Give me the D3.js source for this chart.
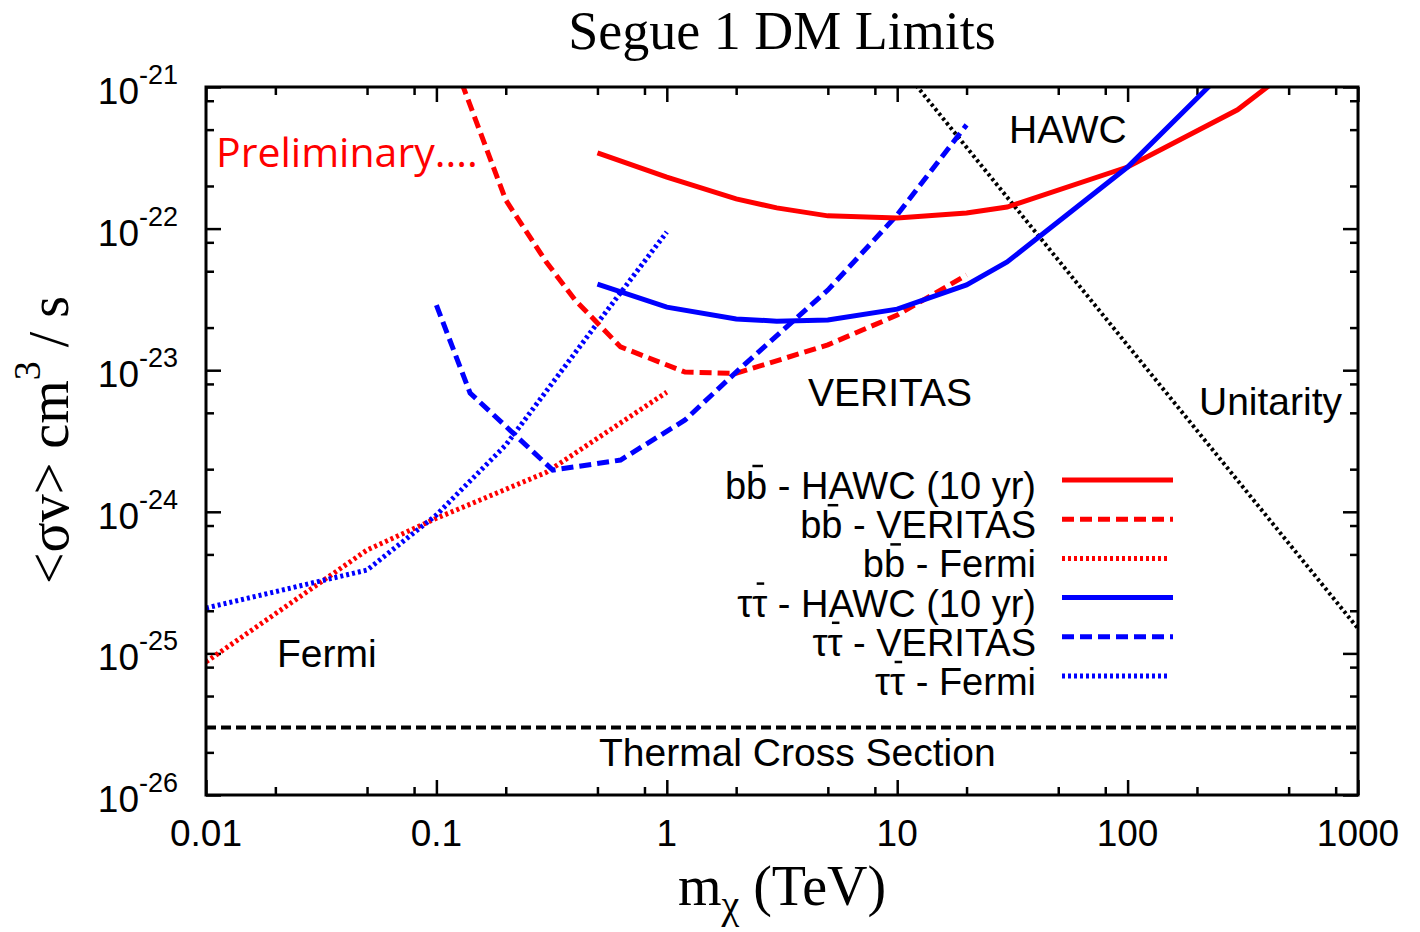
<!DOCTYPE html>
<html>
<head>
<meta charset="utf-8">
<script src="https://cdn.jsdelivr.net/npm/d3@7"></script>
<style>
  body { margin: 0; background: #fff; }
  svg { display: block; }
  .sans { font-family: "Liberation Sans", Arial, sans-serif; }
  .serif { font-family: "Liberation Serif", "Times New Roman", serif; }
</style>
</head>
<body>
<div id="chart"></div>
<script>

// ---- data (mass in TeV, <sigma v> in cm^3/s) ----
var bbHawcMass = [0.5, 1, 2, 3, 5, 10, 20, 30, 100, 300, 1000];
var bbHawcSv   = [3.42e-22, 2.31e-22, 1.62e-22, 1.40e-22, 1.23e-22, 1.19e-22, 1.29e-22, 1.42e-22, 2.72e-22, 6.9e-22, 3.1e-21];

var ttHawcMass = [0.5, 1, 2, 3, 5, 10, 20, 30, 100, 300];
var ttHawcSv   = [4.06e-23, 2.79e-23, 2.30e-23, 2.22e-23, 2.26e-23, 2.70e-23, 4.0e-23, 5.81e-23, 2.72e-22, 1.6e-21];

var bbVeritasMass = [0.1, 0.2, 0.3, 0.4, 0.63, 1.2, 2, 5, 10, 20];
var bbVeritasSv   = [3.2e-21, 1.59e-22, 5.8e-23, 3.13e-23, 1.46e-23, 9.7e-24, 9.5e-24, 1.51e-23, 2.45e-23, 4.7e-23];

var ttVeritasMass = [0.1, 0.14, 0.32, 0.63, 1.2, 2, 5, 10, 20];
var ttVeritasSv   = [2.88e-23, 6.9e-24, 1.97e-24, 2.32e-24, 4.45e-24, 9.7e-24, 3.68e-23, 1.25e-22, 5.4e-22];

var bbFermiMass = [0.01, 0.05, 0.1, 0.3, 1];
var bbFermiSv   = [8.7e-26, 5.37e-25, 9.0e-25, 1.9e-24, 7.0e-24];

var ttFermiMass = [0.01, 0.05, 0.1, 0.2, 0.5, 1];
var ttFermiSv   = [2.09e-25, 3.88e-25, 9.5e-25, 2.96e-24, 2.15e-23, 9.46e-23];

var unitarityMass = [10, 1000];
var unitaritySv   = [1.5e-21, 1.5e-25];

var thermalMass = [0.01, 1000];
var thermalSv   = [3e-26, 3e-26];

var xTickValues = [0.01, 0.1, 1, 10, 100, 1000];
var xTickLabels = ["0.01", "0.1", "1", "10", "100", "1000"];
var xMinorValues = [0.02, 0.05, 0.08, 0.2, 0.5, 0.8, 2, 5, 8, 20, 50, 80, 200, 500, 800];
var yTickValues = [1e-21, 1e-22, 1e-23, 1e-24, 1e-25, 1e-26];
var yTickExponents = ["-21", "-22", "-23", "-24", "-25", "-26"];
var yMinorValues = [8e-22, 5e-22, 2e-22, 8e-23, 5e-23, 2e-23, 8e-24, 5e-24, 2e-24, 8e-25, 5e-25, 2e-25, 8e-26, 5e-26, 2e-26];

var legendParticles = ["bb", "bb", "bb", "\u03c4\u03c4", "\u03c4\u03c4", "\u03c4\u03c4"];
var legendExperiments = ["HAWC (10 yr)", "VERITAS", "Fermi", "HAWC (10 yr)", "VERITAS", "Fermi"];

// ---- layout ----
var width = 1420, height = 932;
var margin = {top: 87, right: 62, bottom: 137, left: 206};
var plotW = width - margin.left - margin.right,
    plotH = height - margin.top - margin.bottom;

var svg = d3.select("#chart").append("svg")
  .attr("width", width)
  .attr("height", height);

var xScale = d3.scaleLog().domain([0.01, 1000]).range([0, plotW]);
var yScale = d3.scaleLog().domain([1e-26, 1e-21]).range([plotH, 0]);

var plot = svg.append("g")
  .attr("transform", `translate(${margin.left},${margin.top})`);

svg.append("defs").append("clipPath").attr("id", "plotClip")
  .append("rect").attr("width", plotW).attr("height", plotH);

// inward ticks on all four sides
function drawAxis(axisFn, scale, values, size, transform) {
  var g = plot.append("g")
    .attr("transform", transform)
    .call(axisFn(scale).tickValues(values).tickSize(size).tickFormat(""));
  g.select(".domain").remove();
  g.selectAll(".tick line").attr("stroke", "#000").attr("stroke-width", 2.5);
}
drawAxis(d3.axisBottom, xScale, xTickValues, -15, `translate(0,${plotH})`);
drawAxis(d3.axisBottom, xScale, xMinorValues, -8, `translate(0,${plotH})`);
drawAxis(d3.axisTop, xScale, xTickValues, -15, "translate(0,0)");
drawAxis(d3.axisTop, xScale, xMinorValues, -8, "translate(0,0)");
drawAxis(d3.axisLeft, yScale, yTickValues, -15, "translate(0,0)");
drawAxis(d3.axisLeft, yScale, yMinorValues, -8, "translate(0,0)");
drawAxis(d3.axisRight, yScale, yTickValues, -15, `translate(${plotW},0)`);
drawAxis(d3.axisRight, yScale, yMinorValues, -8, `translate(${plotW},0)`);

// tick labels
plot.selectAll(".xlab").data(xTickValues).enter().append("text")
  .attr("class", "sans")
  .attr("x", d => xScale(d))
  .attr("y", plotH + 51)
  .attr("text-anchor", "middle")
  .attr("font-size", 37)
  .text((d, i) => xTickLabels[i]);

var ylab = plot.selectAll(".ylab").data(yTickValues).enter().append("text")
  .attr("class", "sans")
  .attr("x", -28)
  .attr("y", d => yScale(d) + 17)
  .attr("text-anchor", "end")
  .attr("font-size", 37);
ylab.append("tspan").text("10");
ylab.append("tspan").attr("font-size", 27).attr("dy", -20).text((d, i) => yTickExponents[i]);

// curves
var line = d3.line()
  .x(d => xScale(d[0]))
  .y(d => yScale(d[1]));

var curves = plot.append("g").attr("clip-path", "url(#plotClip)");

function drawCurve(mass, sv, color, dash, w) {
  curves.append("path")
    .attr("d", line(d3.zip(mass, sv)))
    .attr("fill", "none")
    .attr("stroke", color)
    .attr("stroke-width", w)
    .attr("stroke-dasharray", dash);
}

var dashed = "12,6", dotted = "3,3";
drawCurve(thermalMass, thermalSv, "#000", "10,5", 4);
drawCurve(unitarityMass, unitaritySv, "#000", dotted, 4);
drawCurve(bbFermiMass, bbFermiSv, "#ff0000", dotted, 5);
drawCurve(ttFermiMass, ttFermiSv, "#0000ff", dotted, 5);
drawCurve(bbVeritasMass, bbVeritasSv, "#ff0000", dashed, 5);
drawCurve(ttVeritasMass, ttVeritasSv, "#0000ff", dashed, 5);
drawCurve(bbHawcMass, bbHawcSv, "#ff0000", null, 5);
drawCurve(ttHawcMass, ttHawcSv, "#0000ff", null, 5);

// frame
plot.append("rect")
  .attr("width", plotW).attr("height", plotH)
  .attr("fill", "none").attr("stroke", "#000").attr("stroke-width", 3);

// annotations (pixel positions relative to svg)
function note(x, y, txt) {
  svg.append("text").attr("class", "sans")
    .attr("x", x).attr("y", y).attr("font-size", 39).text(txt);
}
note(1009, 143, "HAWC");
note(808, 406, "VERITAS");
note(1199, 415, "Unitarity");
note(277, 667, "Fermi");
note(599, 766, "Thermal Cross Section");

svg.append("text")
  .attr("x", 216).attr("y", 167)
  .attr("font-family", "'Open Sans', 'Noto Sans', sans-serif")
  .attr("font-size", 41)
  .attr("fill", "#ff0000")
  .text("Preliminary....");

// legend
var legendColors = ["#ff0000", "#ff0000", "#ff0000", "#0000ff", "#0000ff", "#0000ff"];
var legendDash = [null, dashed, dotted, null, dashed, dotted];
var legend = svg.append("g");
legendParticles.forEach(function(p, i) {
  var ly = 480 + i * 39.2;
  legend.append("line")
    .attr("x1", 1062).attr("x2", i % 3 == 2 ? 1169 : 1173)
    .attr("y1", ly).attr("y2", ly)
    .attr("stroke", legendColors[i])
    .attr("stroke-width", 5)
    .attr("stroke-dasharray", legendDash[i]);
  var t = legend.append("text")
    .attr("class", "sans")
    .attr("x", 1036).attr("y", ly + 19)
    .attr("text-anchor", "end")
    .attr("font-size", 38)
    .text(p + " - " + legendExperiments[i]);
  // bar over the second particle
  var box = t.node().getExtentOfChar(1);
  legend.append("line")
    .attr("x1", box.x + box.width * 0.3).attr("x2", box.x + box.width * 0.8)
    .attr("y1", ly - 14).attr("y2", ly - 14)
    .attr("stroke", "#000").attr("stroke-width", 2.5);
});

// title and axis titles
svg.append("text").attr("class", "serif")
  .attr("x", 782).attr("y", 49)
  .attr("text-anchor", "middle")
  .attr("font-size", 54)
  .text("Segue 1 DM Limits");

var xt = svg.append("text").attr("class", "serif")
  .attr("x", 782).attr("y", 905)
  .attr("text-anchor", "middle")
  .attr("font-size", 56);
xt.append("tspan").text("m");
xt.append("tspan").attr("font-size", 40).attr("dy", 13).text("\u03c7");
xt.append("tspan").attr("dy", -13).text(" (TeV)");

var yt = svg.append("text").attr("class", "serif")
  .attr("transform", "translate(68,440) rotate(-90)")
  .attr("text-anchor", "middle")
  .attr("font-size", 56);
yt.append("tspan").text("<\u03c3v> cm");
yt.append("tspan").attr("font-size", 38).attr("dy", -28).text("3");
yt.append("tspan").attr("dy", 28).text(" / s");

</script>
</body>
</html>
